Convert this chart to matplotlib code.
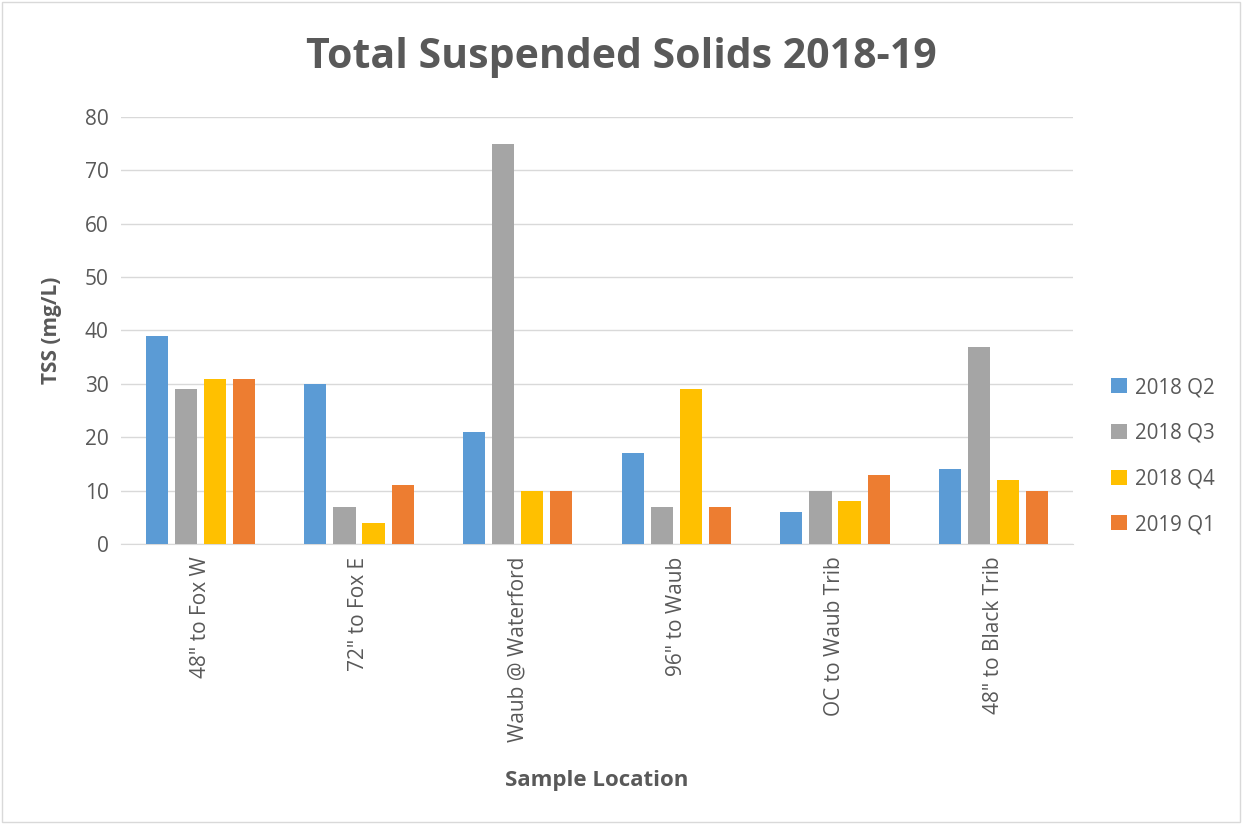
import numpy as np
import matplotlib
matplotlib.use("Agg")
import matplotlib.pyplot as plt

# data
locations = ['48" to Fox W', '72" to Fox E', 'Waub @ Waterford', '96" to Waub',
             'OC to Waub Trib', '48" to Black Trib']
series_names = ['2018 Q2', '2018 Q3', '2018 Q4', '2019 Q1']
q2_2018 = [39, 30, 21, 17, 6, 14]
q3_2018 = [29, 7, 75, 7, 10, 37]
q4_2018 = [31, 4, 10, 29, 8, 12]
q1_2019 = [31, 11, 10, 7, 13, 10]
colors = ['#5B9BD5', '#A5A5A5', '#FFC000', '#ED7D31']

plt.rcParams['font.family'] = ['Open Sans', 'DejaVu Sans']

fig = plt.figure(figsize=(12.42, 8.24), dpi=100)
ax = fig.add_axes([121/1242, 1-544/824, (1073-121)/1242, (544-117)/824])

# outer border like the excel chart frame
fig.patches.append(plt.Rectangle((0.002, 0.002), 0.996, 0.996, transform=fig.transFigure,
                                 fill=False, edgecolor='#D9D9D9', linewidth=1))

x = np.arange(len(locations))
width = 0.139
step = 0.183
all_series = [q2_2018, q3_2018, q4_2018, q1_2019]
for i, (vals, name, c) in enumerate(zip(all_series, series_names, colors)):
    ax.bar(x + (i - 1.5) * step, vals, width, color=c, label=name, zorder=3)

ax.set_xlim(-0.5, len(locations) - 0.5)
ax.set_ylim(0, 80)
ax.set_yticks(range(0, 81, 10))
ax.yaxis.grid(True, color='#D9D9D9', linewidth=1, zorder=0)
for s in ['top', 'right', 'left']:
    ax.spines[s].set_visible(False)
ax.spines['bottom'].set_color('#D9D9D9')
ax.tick_params(axis='both', length=0, labelsize=15, colors='#595959', pad=9)
ax.set_xticks(x)
ax.set_xticklabels(locations, rotation=90)

ax.set_ylabel('TSS (mg/L)', fontsize=15, fontweight='bold', color='#595959', labelpad=16)
ax.set_xlabel('Sample Location', fontsize=16, fontweight='bold', color='#595959', labelpad=20)
fig.text(0.5, 1-57/824, 'Total Suspended Solids 2018-19', ha='center', va='center',
         fontsize=29.5, fontweight='bold', color='#595959')

leg = ax.legend(loc='center left', bbox_to_anchor=(1.021, 0.206), frameon=False,
                fontsize=14.8, handlelength=0.75, handleheight=0.75, labelspacing=1.2,
                handletextpad=0.4, labelcolor='#595959')

fig.savefig('out.png', dpi=100)
